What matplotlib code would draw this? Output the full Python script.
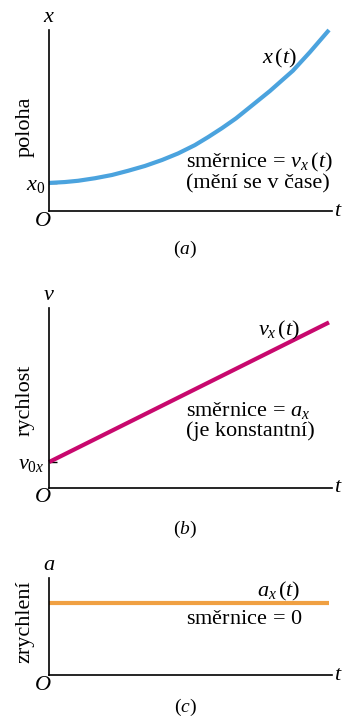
import matplotlib
matplotlib.use("Agg")
import matplotlib.pyplot as plt

# ---- data ----
t_pos = [0.0, 0.057, 0.104, 0.164, 0.225, 0.282, 0.343, 0.404, 0.461, 0.521,
         0.568, 0.618, 0.668, 0.725, 0.789, 0.871, 0.932, 1.0]
x_pos = [1.55, 1.60, 1.67, 1.81, 1.99, 2.22, 2.49, 2.82, 3.18, 3.64,
         4.08, 4.58, 5.12, 5.83, 6.63, 7.75, 8.78, 10.0]
t_vel = [0.0, 1.0]
v_vel = [1.44, 9.2]
t_acc = [0.0, 1.0]
a_acc = [7.4, 7.4]

panel_tags = ["a", "b", "c"]
ylabels = ["poloha", "rychlost", "zrychlení"]
axis_letters = ["x", "v", "a"]
curve_labels = [r"$x\,(t)$", r"$v_x\,(t)$", r"$a_x\,(t)$"]
slope_notes = ["směrnice$\\,=\\,v_x\\,(t)$\n(mění se v čase)",
               "směrnice$\\,=\\,a_x$\n(je konstantní)",
               "směrnice$\\,=\\,0$"]
start_ticks = [r"$x_0$", r"$v_{0x}$", None]
colors = ["#4ba3de", "#c8086e", "#f0a042"]

plt.rcParams['font.family'] = ['Liberation Serif', 'DejaVu Serif']
plt.rcParams['mathtext.fontset'] = 'custom'
plt.rcParams['mathtext.rm'] = 'Liberation Serif'
plt.rcParams['mathtext.it'] = 'Liberation Serif:italic'
plt.rcParams['mathtext.bf'] = 'Liberation Serif:bold'

FS = 16
W, H = 342, 720
fig = plt.figure(figsize=(W / 100, H / 100), dpi=100)
fig.patch.set_facecolor("white")

def fx(p):
    return p / W

def fy(p):
    return 1 - p / H

# panel geometry in pixels: left, top, right, bottom
boxes = [(49, 30, 332, 211), (49, 308, 332, 488), (49, 578, 332, 675)]
series = [(t_pos, x_pos), (t_vel, v_vel), (t_acc, a_acc)]
label_y = [58, 330, 591]
note_y = [151, 400, 620]
ylab_y = [127, 400, 622]
tag_y = [249, 529, 707]

for i, (l, tp, r, b) in enumerate(boxes):
    ax = fig.add_axes([fx(l), fy(b), (r - l) / W, (b - tp) / H])
    ax.set_xlim(0, 283 / 280)
    ax.set_ylim(0, 10)
    for s in ("top", "right"):
        ax.spines[s].set_visible(False)
    for s in ("left", "bottom"):
        ax.spines[s].set_linewidth(1.2)
        ax.spines[s].set_color("black")
    ax.set_facecolor("none")
    ax.set_xticks([])
    tt, vv = series[i]
    ax.plot(tt, vv, color=colors[i], lw=3.0, solid_capstyle="butt",
            solid_joinstyle="round", clip_on=False)
    if start_ticks[i]:
        ax.set_yticks([vv[0]])
        ax.set_yticklabels([start_ticks[i]], fontsize=FS)
        ax.tick_params(axis="y", direction="in", length=6, width=1.0, pad=3)
    else:
        ax.set_yticks([])
    # axis letters and origin
    fig.text(fx(49), fy(tp - 12), f"${axis_letters[i]}$", fontsize=FS,
             ha="center", va="center")
    fig.text(fx(338), fy(b), r"$t$", fontsize=FS, ha="center", va="center")
    fig.text(fx(43), fy(b + 10), r"$O$", fontsize=FS, ha="center", va="center")
    fig.text(fx(25), fy(ylab_y[i]), ylabels[i], fontsize=FS, rotation=90,
             ha="center", va="center")
    fig.text(fx(279), fy(label_y[i]), curve_labels[i], fontsize=FS,
             ha="center", va="center")
    fig.text(fx(186), fy(note_y[i]), slope_notes[i], fontsize=FS,
             ha="left", va="top" if i < 2 else "center", linespacing=1.0)
    fig.text(fx(185), fy(tag_y[i]), f"$({panel_tags[i]})$", fontsize=14,
             ha="center", va="center")

fig.savefig("out.png", dpi=100, facecolor="white")
